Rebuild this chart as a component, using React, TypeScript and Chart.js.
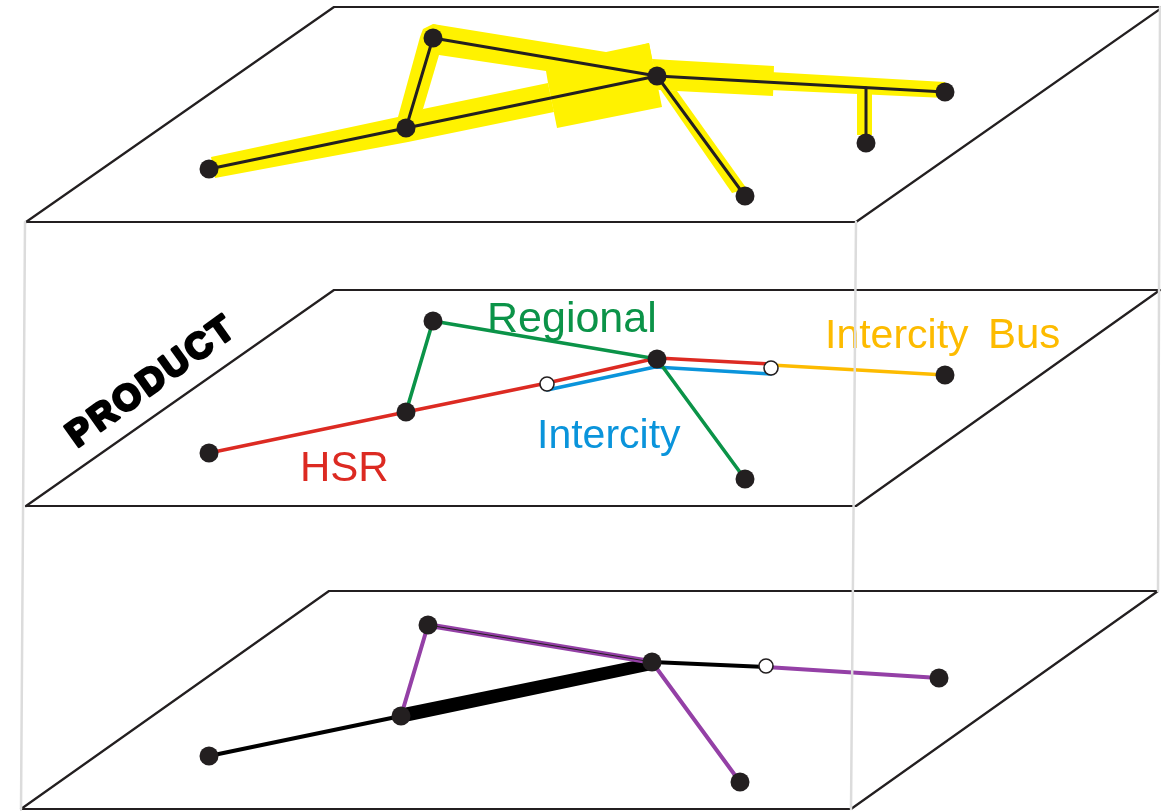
import React, { useEffect, useRef } from "react";
import { Chart, registerables } from "chart.js";

Chart.register(...registerables);

type P = [number, number];

// Plane outlines
const planeTop: P[] = [[26, 222], [334, 7], [1163, 7], [856, 222], [26, 222]];
const planeMid: P[] = [[26, 506], [334, 290], [1160, 290], [856, 506], [26, 506]];
const planeBot: P[] = [[21, 809], [329, 591], [1158, 591], [851, 809], [21, 809]];
const verticals: P[][] = [
  [[25, 222], [21, 809]],
  [[856, 222], [851, 809]],
  [[1160, 7], [1158, 591]],
];

// Top layer: yellow flow bands
const yellowBands: P[][] = [
  [[211, 157], [398, 117], [423, 109], [409, 136], [408, 142], [215, 178]],
  [[398, 117], [420, 37], [423, 29], [433, 24], [445, 27], [439, 55], [423, 109], [406, 130]],
  [[433, 24], [606, 52], [649, 43], [652, 59], [660, 90], [546, 71], [439, 55]],
  [[423, 109], [548, 83], [554, 112], [408, 142], [404, 125]],
  [[546, 71], [649, 43], [662, 107], [557, 128], [548, 83]],
  [[652, 59], [774, 66], [773, 96], [677, 91], [659, 90]],
  [[770, 72], [945, 82], [945, 98], [770, 90]],
  [[857, 90], [872, 90], [872, 135], [857, 135]],
  [[660, 89], [677, 91], [747, 189], [732, 193]],
];
const topLinks: P[][] = [
  [[209, 169], [406, 128], [657, 76], [433, 38], [406, 128]],
  [[657, 76], [945, 92]],
  [[657, 76], [745, 196]],
  [[866, 88], [866, 143]],
];
const topNodes: P[] = [[209, 169], [406, 128], [433, 38], [657, 76], [745, 196], [866, 143], [945, 92]];

// Middle layer
const hsrLine: P[] = [[209, 453], [406, 412], [547, 383], [657, 358], [771, 364]];
const intercityLine: P[] = [[547, 390], [655, 367], [771, 374]];
const busLine: P[] = [[771, 365], [945, 375]];
const regionalLine: P[] = [[406, 412], [433, 321], [657, 359], [745, 479]];
const midNodes: P[] = [[209, 453], [406, 412], [433, 321], [657, 359], [745, 479], [945, 375]];
const midOpen: P[] = [[547, 384], [771, 368]];

// Bottom layer
const thinBlack: P[][] = [
  [[209, 756], [401, 716]],
  [[652, 662], [766, 667]],
];
const thickBlack: P[] = [[403, 708], [648, 658], [652, 670], [405, 722]];
const purpleLinks: P[][] = [
  [[401, 716], [428, 625]],
  [[652, 662], [740, 782]],
  [[766, 667], [939, 678]],
];
const purpleDouble: P[] = [[428, 625], [652, 662]];
const botNodes: P[] = [[209, 756], [401, 716], [428, 625], [652, 662], [740, 782], [939, 678]];
const botOpen: P[] = [[766, 666]];

// Labels: text, x, baseline y, font size, colour
const labels: [string, number, number, number, string][] = [
  ["Regional", 487, 332, 43, "#0b9348"],
  ["Intercity", 537, 448, 41, "#0a94db"],
  ["HSR", 300, 481, 42, "#dc2a22"],
  ["Intercity", 825, 348, 41, "#fdbb00"],
  ["Bus", 988, 348, 42, "#fdbb00"],
];
const rotatedLabel = { text: "PRODUCT", x: 77, y: 448, angle: -35.6 };

const INK = "#231f20";
const FONT = '"Liberation Sans", Arial, sans-serif';

const pts = (a: P[]) => a.map(([x, y]) => ({ x, y }));
const line = (a: P[], color: string, width: number) => ({
  data: pts(a),
  showLine: true,
  borderColor: color,
  borderWidth: width,
  pointRadius: 0,
  borderCapStyle: "round" as const,
  borderJoinStyle: "round" as const,
  tension: 0,
  fill: false,
  clip: false,
});
const band = (a: P[], color: string) => ({
  data: pts(a),
  showLine: true,
  borderWidth: 0,
  borderColor: color,
  backgroundColor: color,
  pointRadius: 0,
  tension: 0,
  fill: "shape",
});
const nodes = (a: P[]) => ({
  data: pts(a),
  showLine: false,
  pointRadius: 9.5,
  pointBackgroundColor: INK,
  pointBorderWidth: 0,
  fill: false,
});
const openNodes = (a: P[]) => ({
  data: pts(a),
  showLine: false,
  pointRadius: 7,
  pointBackgroundColor: "#ffffff",
  pointBorderColor: INK,
  pointBorderWidth: 1.6,
  fill: false,
});

const textPlugin = {
  id: "layerText",
  beforeDatasetsDraw(chart: any) {
    const { ctx, scales } = chart;
    ctx.save();
    ctx.textBaseline = "alphabetic";
    ctx.textAlign = "left";
    for (const [t, x, y, size, c] of labels) {
      ctx.font = `${size}px ${FONT}`;
      ctx.fillStyle = c;
      ctx.fillText(t, scales.x.getPixelForValue(x), scales.y.getPixelForValue(y));
    }
    ctx.translate(scales.x.getPixelForValue(rotatedLabel.x), scales.y.getPixelForValue(rotatedLabel.y));
    ctx.rotate((rotatedLabel.angle * Math.PI) / 180);
    ctx.font = `bold 36px ${FONT}`;
    (ctx as any).letterSpacing = "3px";
    ctx.fillStyle = "#000";
    ctx.strokeStyle = "#000";
    ctx.lineWidth = 3;
    ctx.lineJoin = "round";
    ctx.strokeText(rotatedLabel.text, 0, 0);
    ctx.fillText(rotatedLabel.text, 0, 0);
    ctx.restore();
  },
};

export default function App() {
  const ref = useRef<HTMLCanvasElement>(null);
  useEffect(() => {
    if (!ref.current) return;
    const back2front: any[] = [
      ...yellowBands.map((b) => band(b, "#fff200")),
      line(planeTop, INK, 2.2),
      line(planeMid, INK, 2.2),
      line(planeBot, INK, 2.2),
      ...topLinks.map((l) => line(l, INK, 3)),
      line(hsrLine, "#dc2a22", 3.6),
      line(intercityLine, "#0a94db", 3.6),
      line(busLine, "#fdbb00", 3.6),
      line(regionalLine, "#0b9348", 3.6),
      band(thickBlack, "#000"),
      ...thinBlack.map((l) => line(l, "#000", 4)),
      ...purpleLinks.map((l) => line(l, "#9440a6", 4)),
      line(purpleDouble, "#9440a6", 5.5),
      line(purpleDouble, INK, 1),
      ...verticals.map((l) => line(l, "#dcdcdc", 2.5)),
      nodes(topNodes),
      nodes(midNodes),
      openNodes(midOpen),
      nodes(botNodes),
      openNodes(botOpen),
    ];
    const n = back2front.length;
    const chart = new Chart(ref.current, {
      type: "scatter",
      data: { datasets: back2front.map((d, i) => ({ ...d, order: n - i })) },
      options: {
        animation: false,
        responsive: false,
        devicePixelRatio: 1,
        layout: { padding: 0, autoPadding: false },
        scales: {
          x: { type: "linear", min: 0, max: 1161, display: false },
          y: { type: "linear", min: 0, max: 812, reverse: true, display: false },
        },
        plugins: { legend: { display: false }, tooltip: { enabled: false } },
        elements: { line: { tension: 0 } },
      } as any,
      plugins: [textPlugin],
    });
    return () => chart.destroy();
  }, []);
  return (
    <canvas
      ref={ref}
      width={1161}
      height={812}
      style={{ position: "absolute", left: 0, top: 0, display: "block", background: "#ffffff" }}
    />
  );
}
